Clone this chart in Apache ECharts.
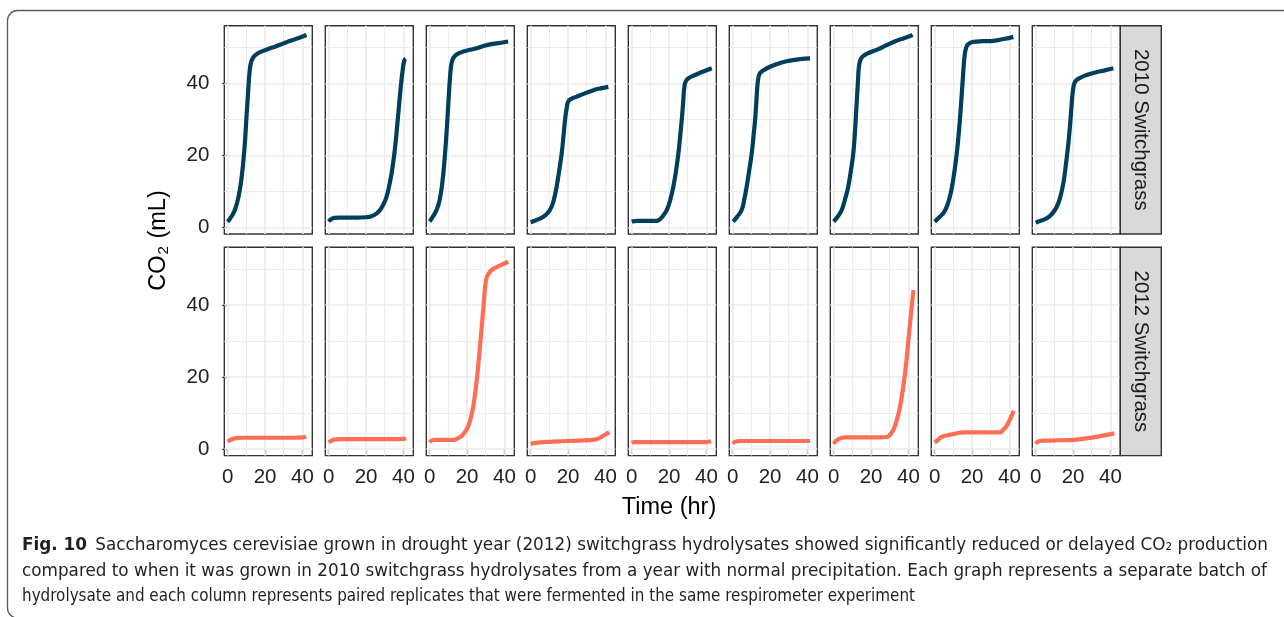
<!DOCTYPE html>
<html><head><meta charset="utf-8">
<script src="https://cdn.jsdelivr.net/npm/echarts@6/dist/echarts.min.js"></script>
<style>html,body{margin:0;padding:0;background:#fff}#c{width:1284px;height:617px}</style>
</head><body><div id="c"></div>
<script>
// ---------- data (Time hr, CO2 mL) ----------
const rowLabels = ['2010 Switchgrass', '2012 Switchgrass'];
const xTickValues = [0, 20, 40];
const yTickValues = [0, 20, 40];
const xMajor = [0, 20, 40], xMinor = [10, 30];
const yMajor = [0, 20, 40], yMinor = [10, 30, 50];

const y2010_1 = [[0,1.5],[2,3],[4,5],[6,9],[7.5,14],[9,22],[10,30],[11,38],[11.8,43.5],[12.5,45.8],[13.5,47],[15,47.9],[18,48.8],[22,49.6],[26,50.3],[30,51.1],[34,51.9],[38,52.6],[42.2,53.4]];
const y2010_2 = [[0,1.6],[1.5,2.3],[3,2.6],[6,2.7],[10,2.7],[15,2.7],[20,2.8],[23,3.1],[25.5,3.8],[27.5,4.8],[29.5,6.6],[31,8.5],[32.5,11.8],[34,16],[35.5,22],[37,30],[38.5,38.5],[39.7,44],[40.5,46.3],[41.3,46.8]];
const y2010_3 = [[0,1.6],[2,3.2],[4,5.2],[5.5,8],[6.8,12.5],[8,19],[9,26],[10,34.4],[10.8,41],[11.4,44.5],[12.2,46.5],[13.5,47.6],[15.5,48.3],[18,48.8],[21.6,49.3],[26,49.9],[30.5,50.6],[36,51.1],[42,51.6]];
const y2010_4 = [[0,1.4],[3,2],[6.7,2.9],[9,3.9],[11.2,5.7],[12.8,8.5],[13.9,11.3],[15.2,15.5],[16.6,20.5],[17.6,25.5],[18.4,29.8],[19.3,33.2],[20.1,34.9],[21.5,35.6],[24.7,36.3],[29,37.2],[33.6,38.1],[37.5,38.6],[41.6,39]];
const y2010_5 = [[0,1.6],[3,1.8],[8,1.8],[13.4,1.8],[15.5,2.4],[17.2,3.5],[18.8,4.8],[20.6,7.5],[22.3,11.3],[23.7,15.5],[25,20.5],[26,25.5],[26.8,29.8],[27.6,35],[28.2,39],[29,40.6],[30.4,41.4],[34,42.3],[38,43.2],[42.9,44.2]];
const y2010_6 = [[0.3,1.6],[2.5,3],[4.8,4.8],[6.3,8],[7.5,11.3],[8.9,16],[10.2,20.5],[11.2,25.5],[12,29.8],[12.7,35],[13.2,39],[13.8,41.6],[14.6,42.8],[16.5,43.6],[20,44.6],[25,45.6],[30.7,46.3],[36,46.7],[41.4,46.9]];
const y2010_7 = [[0,1.6],[2.2,3],[4.3,4.8],[6.2,8],[7.8,11.3],[9.3,16],[10.5,20.5],[11.4,26.5],[12.3,34.4],[13,40.5],[13.7,45.3],[14.8,47],[16.8,47.9],[20,48.7],[24,49.5],[28.4,50.6],[33,51.7],[38,52.6],[42.3,53.4]];
const y2010_8 = [[0,1.6],[2.5,2.8],[5,4.2],[7,6.5],[8.8,10],[10.3,14.5],[11.6,19.5],[12.7,25],[13.6,30.5],[14.5,37],[15.3,43],[16,47.5],[16.8,49.8],[18,50.9],[20.7,51.5],[26,51.7],[31.4,51.8],[37,52.3],[42.1,52.9]];
const y2010_9 = [[0,1.3],[3,1.9],[5.9,2.5],[8.5,3.6],[11.3,5.7],[13.2,8.5],[14.8,12.2],[16.2,17.5],[17.5,23.3],[18.5,29],[19.3,34.4],[20.1,38.5],[21.1,40.4],[23,41.3],[27.3,42.3],[32,43],[37,43.6],[41.6,44.2]];

const y2012_1 = [[0,2],[1.5,2.5],[3,2.8],[5,3],[8,3.1],[15,3.1],[25,3.1],[35,3.1],[40.5,3.2],[42,3.4]];
const y2012_2 = [[0,1.8],[1.5,2.3],[3,2.6],[6,2.7],[15,2.7],[25,2.7],[35,2.7],[40,2.8],[41.5,2.9]];
const y2012_3 = [[0,1.8],[1.5,2.4],[4,2.5],[8,2.5],[12.6,2.5],[15,2.9],[17.1,3.6],[19,4.8],[20.7,6.4],[22.2,9],[23.4,12],[24.6,16.5],[25.6,21],[26.5,26],[27.3,30.5],[28.2,36],[29.1,41.4],[29.8,45.5],[30.5,47.6],[31.7,48.8],[33.2,49.7],[37,50.8],[42.1,52]];
const y2012_4 = [[0,1.4],[2,1.6],[5,1.8],[12,2],[19.3,2.2],[26,2.3],[33.6,2.5],[36,2.8],[38,3.4],[40,4],[42.1,4.6]];
const y2012_5 = [[0,1.7],[1.5,1.9],[10,1.9],[20,1.9],[30,1.9],[40,1.9],[42.5,2.1]];
const y2012_6 = [[0,1.5],[1.5,2],[3.9,2.2],[10,2.2],[20,2.2],[30,2.2],[41.4,2.2]];
const y2012_7 = [[0,1.4],[1.2,2.2],[2.5,2.7],[4,3],[6,3.2],[15,3.2],[25,3.2],[28.4,3.3],[30.3,4],[31.9,5.2],[33.8,8],[35.5,11.7],[36.9,16],[38.2,21],[39.6,28],[40.9,35],[42.7,44.1]];
const y2012_8 = [[0,1.8],[1.5,2.4],[2.8,3],[4.6,3.5],[7,3.8],[10,4.1],[13.5,4.5],[15.3,4.6],[20,4.6],[30,4.6],[35,4.6],[36.7,5.3],[38.6,6.5],[40.5,8.4],[42.3,10.6]];
const y2012_9 = [[0,1.4],[1,1.9],[2.3,2.2],[6,2.3],[12,2.4],[20.1,2.5],[25,2.8],[30.9,3.2],[36,3.7],[42.1,4.3]];

const rows = [
  [y2010_1, y2010_2, y2010_3, y2010_4, y2010_5, y2010_6, y2010_7, y2010_8, y2010_9],
  [y2012_1, y2012_2, y2012_3, y2012_4, y2012_5, y2012_6, y2012_7, y2012_8, y2012_9]
];

const captionBold = 'Fig. 10';
const captionLines = [
  'Saccharomyces cerevisiae grown in drought year (2012) switchgrass hydrolysates showed significantly reduced or delayed CO\u2082 production',
  'compared to when it was grown in 2010 switchgrass hydrolysates from a year with normal precipitation. Each graph represents a separate batch of',
  'hydrolysate and each column represents paired replicates that were fermented in the same respirometer experiment'
];

// ---------- layout / style ----------
const lineColors = ['#003F5C', '#FF6E54'];
const X0 = 224.3, PITCH = 101, PW = 88;
const ROW_TOP = [25.7, 247.3], PH = 208.3;
const xMin = -1.8, xMax = 45.3, yMin = -1.86, yMax = 56;
const FONT = '"Liberation Sans", Arial, sans-serif';
const capFont = '"Liberation Sans Narrow", "DejaVu Sans Condensed", "Liberation Sans", sans-serif';

const grids = [], xAxes = [], yAxes = [], series = [];
let gi = 0;
for (let r = 0; r < 2; r++) {
  for (let c = 0; c < 9; c++) {
    grids.push({left: X0 + PITCH * c, top: ROW_TOP[r], width: PW, height: PH, z: 0,
      show: true, backgroundColor: '#fff', borderColor: '#333', borderWidth: 1.4, containLabel: false});
    xAxes.push({gridIndex: gi, type: 'value', min: xMin, max: xMax,
      axisLine: {show: false}, splitLine: {show: false},
      axisTick: {show: r === 1, customValues: xTickValues, length: 5, lineStyle: {color: '#333', width: 1.2}},
      axisLabel: {show: r === 1, customValues: xTickValues, margin: 11, fontSize: 20.5, fontFamily: FONT, color: '#222'}});
    yAxes.push({gridIndex: gi, type: 'value', min: yMin, max: yMax,
      axisLine: {show: false}, splitLine: {show: false},
      axisTick: {show: c === 0, customValues: yTickValues, length: 5.5, lineStyle: {color: '#333', width: 1.2}},
      axisLabel: {show: c === 0, customValues: yTickValues, margin: 15, fontSize: 20.5, fontFamily: FONT, color: '#222'}});
    const ml = [];
    xMinor.forEach(v => ml.push({xAxis: v, lineStyle: {width: 0.9}}));
    yMinor.forEach(v => ml.push({yAxis: v, lineStyle: {width: 0.9}}));
    xMajor.forEach(v => ml.push({xAxis: v, lineStyle: {width: 1.7}}));
    yMajor.forEach(v => ml.push({yAxis: v, lineStyle: {width: 1.7}}));
    series.push({type: 'line', xAxisIndex: gi, yAxisIndex: gi, data: [], z: 1, silent: true,
      markLine: {z: 1, silent: true, symbol: ['none', 'none'], animation: false, label: {show: false},
        emphasis: {disabled: true},
        lineStyle: {color: '#EBEBEB', type: 'solid'}, data: ml}});
    series.push({type: 'line', xAxisIndex: gi, yAxisIndex: gi, data: rows[r][c], z: 4,
      showSymbol: false, smooth: 0.5, clip: false,
      lineStyle: {color: lineColors[r], width: 4.2, cap: 'butt', join: 'round'}});
    gi++;
  }
}

// strips
const graphics = [];
const stripX = X0 + PITCH * 8 + PW;
for (let r = 0; r < 2; r++) {
  graphics.push({type: 'rect', shape: {x: stripX, y: ROW_TOP[r], width: 41, height: PH},
    style: {fill: '#D9D9D9', stroke: '#333', lineWidth: 1.4}, z: 5});
  graphics.push({type: 'text', x: stripX + 20.5, y: ROW_TOP[r] + PH / 2, rotation: -Math.PI / 2,
    style: {text: rowLabels[r], fontSize: 20.5, fontFamily: FONT, fill: '#1A1A1A', align: 'center', verticalAlign: 'middle'}, z: 6});
}
// axis titles
graphics.push({type: 'text', x: 669, y: 508,
  style: {text: 'Time (hr)', fontSize: 23.5, fontFamily: FONT, fill: '#000', align: 'center', verticalAlign: 'middle'}});
graphics.push({type: 'text', x: 159, y: 240.5, rotation: Math.PI / 2,
  style: {text: '{a|CO}{s|2}{a| (mL)}', align: 'center', verticalAlign: 'middle',
    rich: {a: {fontSize: 23.5, fontFamily: FONT, fill: '#000'},
           s: {fontSize: 15, fontFamily: FONT, fill: '#000', verticalAlign: 'bottom', padding: [0, 1, 0, 1]}}}});

// outer frame
graphics.push({type: 'rect', shape: {x: 7.5, y: 10.5, width: 1300, height: 607.5, r: 10},
  style: {fill: 'none', stroke: '#5A5A5A', lineWidth: 1.3}, z: 0});

// caption
const mctx = document.createElement('canvas').getContext('2d');
function tw(text, weight, size) { mctx.font = weight + ' ' + size + 'px ' + capFont; return mctx.measureText(text).width; }
const CAP_SIZE = 18, CAP_LEFT = 22;
const capTargets = [1268, 1267, 915];
const capY = [545, 571, 596];
const gap = 8;
const wB = tw(captionBold, 'bold', CAP_SIZE);
const wL = captionLines.map(t => tw(t, 'normal', CAP_SIZE));
const sc = [
  (capTargets[0] - CAP_LEFT) / (wB + gap + wL[0]),
  (capTargets[1] - CAP_LEFT) / wL[1],
  (capTargets[2] - CAP_LEFT) / wL[2]
];
graphics.push({type: 'text', x: CAP_LEFT, y: capY[0], scaleX: sc[0],
  style: {text: captionBold, fontSize: CAP_SIZE, fontWeight: 'bold', fontFamily: capFont, fill: '#231F20', verticalAlign: 'middle'}});
graphics.push({type: 'text', x: CAP_LEFT + (wB + gap) * sc[0], y: capY[0], scaleX: sc[0],
  style: {text: captionLines[0], fontSize: CAP_SIZE, fontFamily: capFont, fill: '#231F20', verticalAlign: 'middle'}});
for (let i = 1; i < 3; i++) {
  graphics.push({type: 'text', x: CAP_LEFT, y: capY[i], scaleX: sc[i],
    style: {text: captionLines[i], fontSize: CAP_SIZE, fontFamily: capFont, fill: '#231F20', verticalAlign: 'middle'}});
}

const chart = echarts.init(document.getElementById('c'), null, {renderer: 'canvas'});
chart.setOption({animation: false, backgroundColor: '#fff', grid: grids, xAxis: xAxes, yAxis: yAxes, series: series, graphic: graphics});
</script></body></html>
